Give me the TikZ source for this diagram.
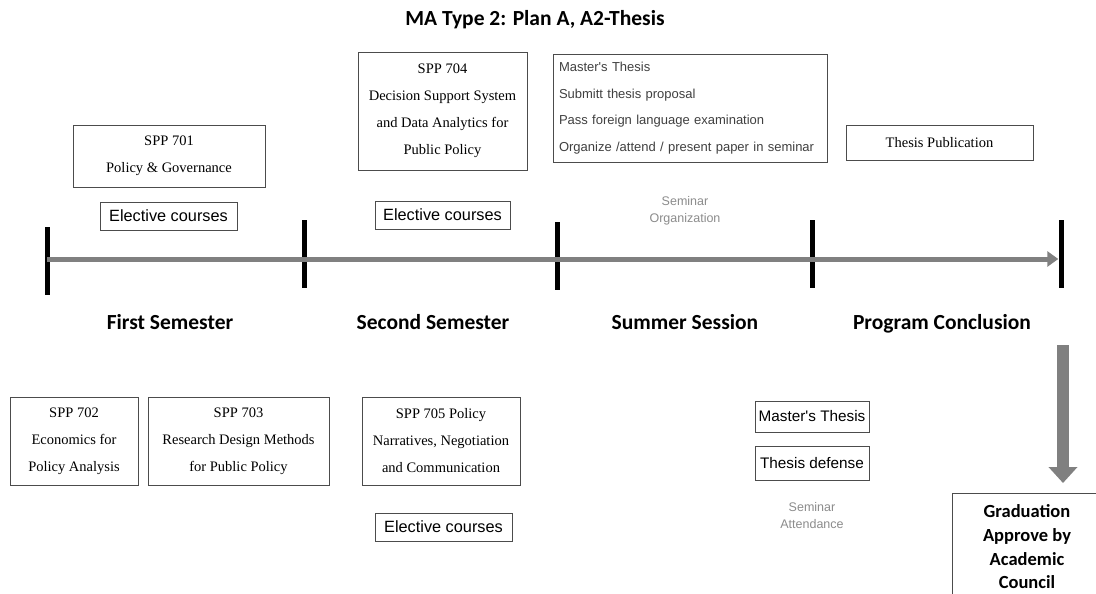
\documentclass[tikz,border=0pt]{standalone}
\usepackage{fontspec}
\setmainfont{Liberation Serif}
\newfontfamily\arialf{Liberation Sans}
\newfontfamily\calf{Carlito}
\usetikzlibrary{arrows.meta}
\tikzset{
  box/.style={draw=black!70, line width=0.9pt, inner sep=0pt, align=center},
  serifbox/.style={box, font=\fontsize{14.5}{27}\selectfont},
  sansbox/.style={box, font=\arialf\fontsize{15.3}{20}\selectfont},
  elecbox/.style={box, font=\arialf\fontsize{16.3}{20}\selectfont},
  tickbar/.style={fill=black, draw=none, minimum width=5pt, minimum height=68pt, inner sep=0pt},
  heading/.style={font=\calf\bfseries\fontsize{21.5}{24}\selectfont, text height=15pt, text depth=5pt},
  greynote/.style={font=\arialf\fontsize{12.5}{17}\selectfont, text=black!45, align=center},
  timeline/.style={draw=black!50, line width=5pt, -{Triangle[width=15pt, length=11pt]}},
  downarrow/.style={draw=black!50, line width=12pt, -{Triangle[width=28pt, length=16pt]}}
}
\begin{document}
\begin{tikzpicture}[x=1pt, y=-1pt]
\clip (0,0) rectangle (1096,594);
\useasboundingbox (0,0) rectangle (1096,594);
\fill[white] (0,0) rectangle (1096,594);

\node[font=\calf\bfseries\fontsize{21.5}{24}\selectfont] (title) at (535,20) {MA Type 2: Plan A, A2-Thesis};

% top boxes
\node[serifbox, minimum width=192pt, minimum height=62pt] (spp701) at (169,156) {SPP 701\\Policy \& Governance};
\node[elecbox, minimum width=137pt, minimum height=28pt] (elec1) at (168.5,216) {Elective courses};
\node[serifbox, minimum width=169pt, minimum height=118pt] (spp704) at (442.5,111) {SPP 704\\Decision Support System\\and Data Analytics for\\Public Policy};
\node[elecbox, minimum width=135pt, minimum height=28pt] (elec2) at (442.5,215) {Elective courses};
\node[box, minimum width=274pt, minimum height=108pt, align=left, text width=262pt, font=\arialf\fontsize{13}{26.7}\selectfont, text=black!75] (mthesis) at (690,108) {Master's Thesis\\Submitt thesis proposal\\Pass foreign language examination\\Organize /attend / present paper in seminar};
\node[serifbox, minimum width=187pt, minimum height=35pt] (thpub) at (939.5,142.5) {Thesis Publication};
\node[greynote] (semorg) at (685,211) {Seminar\\Organization};

% timeline
\node[tickbar] (t1) at (47,261) {};
\node[tickbar] (t2) at (304,254) {};
\node[tickbar] (t3) at (557,256) {};
\node[tickbar] (t4) at (812,254) {};
\node[tickbar] (t5) at (1061,254) {};
\draw[timeline] (t1.center |- 0,259) -- (t5.west |- 0,259);

% headings
\node[heading] (h1) at (170,324) {First Semester};
\node[heading] (h2) at (433,324) {Second Semester};
\node[heading] (h3) at (685,324) {Summer Session};
\node[heading] (h4) at (942,324) {Program Conclusion};

% bottom boxes
\node[serifbox, minimum width=128pt, minimum height=88pt] (spp702) at (74,441) {SPP 702\\Economics for\\Policy Analysis};
\node[serifbox, minimum width=181pt, minimum height=88pt] (spp703) at (238.5,441) {SPP 703\\Research Design Methods\\for Public Policy};
\node[serifbox, minimum width=158pt, minimum height=88pt] (spp705) at (441,441) {SPP 705 Policy\\Narratives, Negotiation\\and Communication};
\node[elecbox, minimum width=137pt, minimum height=28pt] (elec3) at (443.5,527) {Elective courses};
\node[sansbox, minimum width=114pt, minimum height=31pt] (mt2) at (812,416.5) {Master's Thesis};
\node[sansbox, minimum width=114pt, minimum height=34pt] (thdef) at (812,463) {Thesis defense};
\node[greynote] (semat) at (812,516) {Seminar\\Attendance};

% graduation
\node[box, minimum width=156pt, minimum height=118pt] (grad) at (1030,552) {};
\node[font=\calf\bfseries\fontsize{18.5}{23.7}\selectfont, align=center] (gradtxt) at (1027,547) {Graduation\\Approve by\\Academic\\Council};
\coordinate (astart) at (1063,345);
\coordinate (aend) at (1063,483);
\draw[downarrow] (astart) -- (aend);
\end{tikzpicture}
\end{document}
